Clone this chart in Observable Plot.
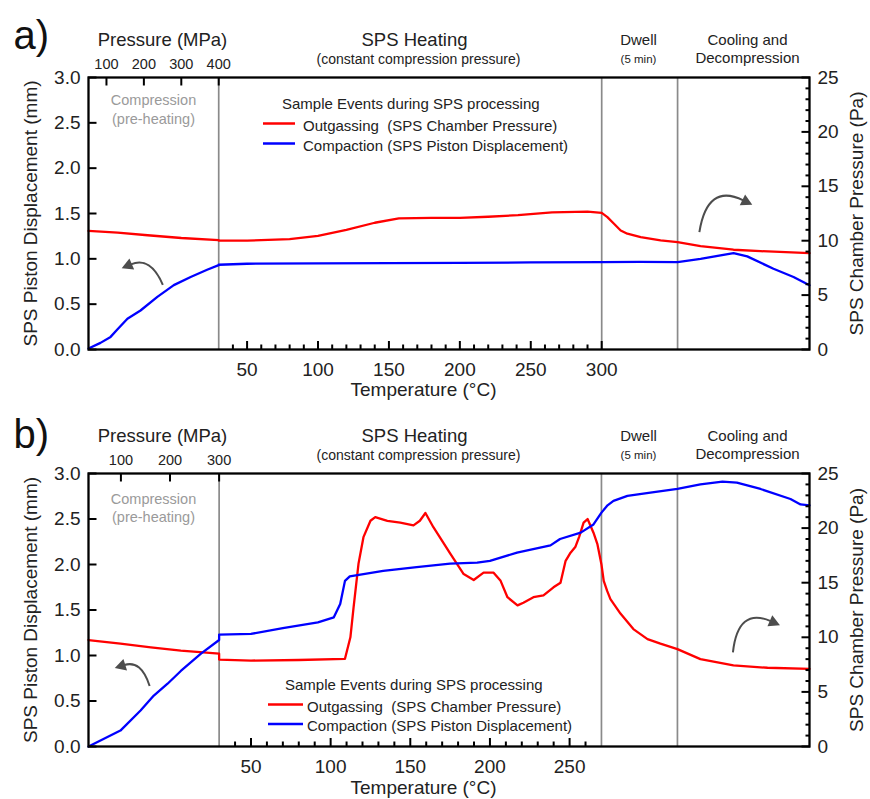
<!DOCTYPE html>
<html>
<head>
<meta charset="utf-8">
<script src="https://cdn.jsdelivr.net/npm/d3@7"></script>
<script src="https://cdn.jsdelivr.net/npm/@observablehq/plot@0.6"></script>
<style>
  body { margin: 0; background: #fff; font-family: "Liberation Sans", Arial, sans-serif; }
  #wrap { position: relative; width: 870px; height: 799px; }
  #pa { position: absolute; left: 0; top: 0; }
  #pb { position: absolute; left: 0; top: 400px; }
</style>
</head>
<body>
<div id="wrap"><div id="pa"></div><div id="pb"></div></div>
<script>
const FONT = "'Liberation Sans', Arial, Helvetica, sans-serif";

// ---------------- Panel a) data ----------------
const aPressureTicks = [100, 200, 300, 400];            // MPa (compression stage)
const aTempTicks = [50, 100, 150, 200, 250, 300];       // °C (heating stage)
// displacement in mm; chamber pressure in Pa
const aDispCompression = [[52,0.011],[84,0.073],[111,0.139],[129,0.22],[156,0.34],[191,0.43],[236,0.58],[280,0.71],[325,0.80],[369,0.88],[400,0.93]];
const aPresCompression = [[52,10.9],[130,10.75],[210,10.5],[300,10.25],[400,10.05]];
const aDispHeating = [[30,0.935],[50,0.946],[100,0.95],[150,0.952],[200,0.955],[250,0.96],[300,0.964]];
const aPresHeating = [[30,10.0],[50,10.0],[80,10.15],[100,10.45],[120,11.0],[140,11.65],[157,12.05],[180,12.1],[200,12.1],[220,12.2],[241,12.35],[265,12.6],[290,12.68],[300,12.56]];
const aDispDwell = [[0,0.964],[2.5,0.966],[5,0.964]];                 // minutes
const aPresDwell = [[0,12.56],[0.375,12.17],[0.81,11.56],[1.25,10.94],[1.69,10.64],[2.57,10.33],[3.88,10.03],[5,9.87]];
const aDispCooling = [[0,0.964],[0.174,1.0],[0.424,1.063],[0.528,1.027],[0.727,0.89],[0.879,0.80],[1,0.708]]; // fraction of stage
const aPresCooling = [[0,9.87],[0.174,9.5],[0.424,9.17],[0.629,9.04],[1,8.86]];

// ---------------- Panel b) data ----------------
const bPressureTicks = [100, 200, 300];
const bTempTicks = [50, 100, 150, 200, 250];
const bDispCompression = [[34,0],[99,0.175],[140,0.395],[167,0.56],[195,0.69],[222,0.83],[263,1.02],[300,1.17]];
const bPresCompression = [[34,9.75],[99,9.42],[161,9.08],[222,8.78],[300,8.5]];
const bDispHeating = [[30,1.23],[50,1.237],[70,1.30],[92,1.365],[102,1.42],[106,1.566],[109,1.82],[112,1.87],[133,1.93],[154,1.97],[175,2.01],[192,2.02],[200,2.04],[217,2.13],[238,2.21],[244,2.28],[257,2.35],[265,2.44],[270,2.57]];
const bPresHeating = [[30,7.96],[50,7.87],[80,7.92],[109,8.03],[112.4,10.0],[114.4,12.75],[117.5,16.75],[120.6,19.17],[125,20.67],[128,21.0],[135.6,20.67],[143.7,20.5],[152,20.25],[156,20.67],[159.5,21.38],[164.5,20.08],[175.2,17.63],[183.5,15.79],[189.8,15.25],[196,15.92],[202.3,15.92],[206.7,15.17],[211,13.67],[217.3,12.92],[221,13.17],[227.3,13.67],[233.6,13.83],[239.9,14.58],[244.3,15.0],[247.5,17.0],[250.6,17.75],[253.7,18.3],[256,19.2],[258.8,20.5],[261.3,20.83],[265,19.58],[267.5,18.5],[270,16.67]];
const bDispDwell = [[0,2.57],[0.4,2.65],[0.79,2.70],[1.71,2.755],[3.22,2.79],[5,2.83]];
const bPresDwell = [[0,16.67],[0.15,15.17],[0.375,14.25],[0.59,13.5],[1.25,12.17],[2.1,10.75],[3.03,9.83],[3.88,9.42],[5,8.92]];
const bDispCooling = [[0,2.83],[0.174,2.88],[0.341,2.91],[0.45,2.90],[0.629,2.83],[0.856,2.72],[0.932,2.66],[1,2.65]];
const bPresCooling = [[0,8.92],[0.174,8.0],[0.424,7.42],[0.682,7.21],[1,7.1]];

// Annotation arrows: [stage, stage value, displacement mm]
const aArrows = [
  {from: ["compression", 252, 0.708], to: ["compression", 142, 0.89], bend: 0.25},
  {from: ["cooling", 0.169, 1.29], to: ["cooling", 0.57, 1.59], bend: -0.34}
];
const bArrows = [
  {from: ["compression", 159.5, 0.659], to: ["compression", 88.5, 0.856], bend: 0.25},
  {from: ["cooling", 0.424, 1.03], to: ["cooling", 0.78, 1.328], bend: -0.34}
];

const dispTicks = [0, 0.5, 1, 1.5, 2, 2.5, 3];   // mm
const presTicks = [0, 5, 10, 15, 20, 25];        // Pa
const PA_TO_MM = 3 / 25;

const legendTitle = "Sample Events during SPS processing";
const legendItems = [
  {label: "Outgassing  (SPS Chamber Pressure)", color: "#ff0000"},
  {label: "Compaction (SPS Piston Displacement)", color: "#0000ff"}
];

// stage layout on a single process axis (°C-equivalent units)
function layout(cfg) {
  const u0 = cfg.heating[0] - cfg.compW;
  const L = {
    u0,
    compression: p => u0 + (p - cfg.compression[0]) / (cfg.compression[1] - cfg.compression[0]) * cfg.compW,
    invCompression: u => cfg.compression[0] + (u - u0) / cfg.compW * (cfg.compression[1] - cfg.compression[0]),
    heating: t => t,
    dwell: m => cfg.heating[1] + m / 5 * cfg.dwellW,
    cooling: f => cfg.heating[1] + cfg.dwellW + f * cfg.coolW
  };
  L.uEnd = L.cooling(1);
  return L;
}

function series(L, parts, k) {
  const out = [];
  for (const stage of ["compression", "heating", "dwell", "cooling"])
    for (const [x, v] of parts[stage]) out.push({u: L[stage](x), v: v * k});
  return out;
}

function arrowsMark(arrows, L) {
  return (index, scales) => {
    const g = d3.create("svg:g").attr("fill", "#4d4d4d").attr("stroke", "#4d4d4d");
    for (const a of arrows) {
      const x1 = scales.x(L[a.from[0]](a.from[1])), y1 = scales.y(a.from[2]);
      const x2 = scales.x(L[a.to[0]](a.to[1])), y2 = scales.y(a.to[2]);
      const dx = x2 - x1, dy = y2 - y1, len = Math.hypot(dx, dy);
      const k = a.bend * len * 2;
      const cx = (x1 + x2) / 2 + (-dy / len) * k, cy = (y1 + y2) / 2 + (dx / len) * k;
      const tx = x2 - cx, ty = y2 - cy, tl = Math.hypot(tx, ty);
      const ux = tx / tl, uy = ty / tl, hl = 11, hw = 6;
      const bx = x2 - ux * hl, by = y2 - uy * hl;
      g.append("path").attr("fill", "none").attr("stroke-width", 2)
        .attr("d", `M${x1},${y1}Q${cx},${cy} ${bx + ux},${by + uy}`);
      g.append("path").attr("stroke", "none")
        .attr("d", `M${x2},${y2}L${bx - uy * hw},${by + ux * hw}L${bx + uy * hw},${by - ux * hw}Z`);
    }
    return g.node();
  };
}

function legendMark(p) {
  return (index, scales, values, dims) => {
    const ox = dims.marginLeft, oy = dims.marginTop;
    const g = d3.create("svg:g").attr("font-family", FONT).attr("font-size", 15).attr("fill", "#222")
      .attr("text-anchor", "start").style("white-space", "pre");
    g.append("text").attr("x", ox + p.tx).attr("y", oy + p.ty).text(legendTitle);
    legendItems.forEach((it, i) => {
      const y = oy + p.ly + i * p.step;
      g.append("line").attr("x1", ox + p.lx).attr("x2", ox + p.lx + p.lw).attr("y1", y).attr("y2", y)
        .attr("stroke", it.color).attr("stroke-width", 2.5);
      g.append("text").attr("x", ox + p.lx + p.lw + p.gap).attr("y", y + 7).text(it.label);
    });
    return g.node();
  };
}

function label(s, o) {
  return Plot.text([s], {text: d => d, frameAnchor: "top-left", lineAnchor: "bottom", textAnchor: "middle", fill: "#222", ...o});
}

function panel(cfg) {
  const L = layout(cfg);
  const disp = series(L, cfg.disp, 1);
  const pres = series(L, cfg.pres, PA_TO_MM);
  const minorT = d3.range(40, cfg.heating[1], 10).filter(t => t % 50 !== 0);
  const minorP = d3.range(0, 26).filter(p => p % 5 !== 0).map(p => p * PA_TO_MM);
  return Plot.plot({
    width: 870, height: cfg.height,
    marginLeft: 88, marginRight: 61, marginTop: cfg.mt, marginBottom: cfg.mb,
    style: {fontFamily: FONT, color: "#222", background: "#fff", overflow: "visible"},
    x: {domain: [L.u0, L.uEnd]},
    y: {domain: [0, 3]},
    marks: [
      Plot.ruleX([cfg.heating[0], cfg.heating[1], L.dwell(5)], {stroke: "#8a8a8a", strokeWidth: 1.7}),
      Plot.line(pres, {x: "u", y: "v", stroke: "#ff0000", strokeWidth: 2.3}),
      Plot.line(disp, {x: "u", y: "v", stroke: "#0000ff", strokeWidth: 2.3}),
      // left axis (mm)
      Plot.axisY(dispTicks, {anchor: "left", tickSize: -8.5, tickPadding: 16.5, tickFormat: d3.format(".1f"), fontSize: 19, label: null, stroke: "#000", strokeWidth: 2}),
      // right axis (Pa)
      Plot.axisY(presTicks.map(p => p * PA_TO_MM), {anchor: "right", tickSize: -8.5, tickPadding: 16.5, tickFormat: d => Math.round(d / PA_TO_MM), fontSize: 19, label: null, stroke: "#000", strokeWidth: 2}),
      Plot.axisY(minorP, {anchor: "right", tickSize: -4.5, tickFormat: () => "", label: null, stroke: "#000", strokeWidth: 2}),
      // bottom axis (°C)
      Plot.axisX(cfg.tempTicks, {anchor: "bottom", tickSize: -8, tickPadding: 20.5, fontSize: 19, label: null, stroke: "#000", strokeWidth: 2}),
      Plot.axisX(minorT, {anchor: "bottom", tickSize: -4.5, tickFormat: () => "", label: null, stroke: "#000", strokeWidth: 2}),
      // top axis (MPa)
      Plot.axisX(cfg.pressureTicks.map(L.compression), {anchor: "top", tickSize: -7.5, tickPadding: 16.5, tickFormat: d => Math.round(L.invCompression(d) / 10) * 10, fontSize: 14.5, label: null, stroke: "#000", strokeWidth: 2}),
      Plot.frame({stroke: "#000", strokeWidth: 2.3}),
      // axis titles
      Plot.text(["SPS Piston Displacement (mm)"], {text: d => d, frameAnchor: "left", textAnchor: "middle", lineAnchor: "middle", dx: -57.5, rotate: -90, fontSize: 19, fill: "#222"}),
      Plot.text(["SPS Chamber Pressure (Pa)"], {text: d => d, frameAnchor: "right", textAnchor: "middle", lineAnchor: "middle", dx: 47, rotate: -90, fontSize: 19, fill: "#222"}),
      Plot.text(["Temperature (°C)"], {text: d => d, frameAnchor: "bottom-left", textAnchor: "middle", dx: 335, dy: cfg.tempTitleDy, lineAnchor: "bottom", fontSize: 19, fill: "#222"}),
      // headers
      label(cfg.letter, {dx: -75, dy: cfg.letterDy, textAnchor: "start", fontSize: 40, fill: "#111"}),
      label("Pressure (MPa)", {dx: 74, dy: -32, fontSize: 18.5}),
      label("SPS Heating", {dx: 326, dy: -32, fontSize: 18.5}),
      label("(constant compression pressure)", {dx: 330, dy: -14, fontSize: 14}),
      label("Dwell", {dx: 550, dy: -33, fontSize: 15}),
      label("(5 min)", {dx: 550, dy: -15, fontSize: 11.5}),
      label("Cooling and", {dx: 659, dy: -33, fontSize: 15}),
      label("Decompression", {dx: 659, dy: -15, fontSize: 15}),
      label("Compression", {dx: 65, dy: cfg.compDy, fontSize: 14.5, fill: "#9a9a9a"}),
      label("(pre-heating)", {dx: 65, dy: cfg.compDy + 18.5, fontSize: 14.5, fill: "#9a9a9a"}),
      arrowsMark(cfg.arrows, L),
      legendMark(cfg.legend)
    ]
  });
}

const panelA = panel({
  letter: "a)", letterDy: -28.5, height: 400, mt: 77, mb: 51, tempTitleDy: 46, compDy: 27.8,
  compression: [52, 400], heating: [30, 300], compW: 91.8, dwellW: 53.5, coolW: 93,
  pressureTicks: aPressureTicks, tempTicks: aTempTicks,
  disp: {compression: aDispCompression, heating: aDispHeating, dwell: aDispDwell, cooling: aDispCooling},
  pres: {compression: aPresCompression, heating: aPresHeating, dwell: aPresDwell, cooling: aPresCooling},
  arrows: aArrows,
  legend: {tx: 194, ty: 32, lx: 175, lw: 32, gap: 8, ly: 46.5, step: 20}
});
const panelB = panel({
  letter: "b)", letterDy: -26, height: 399, mt: 73, mb: 53, tempTitleDy: 47, compDy: 30,
  compression: [34, 300], heating: [30, 270], compW: 82, dwellW: 47.7, coolW: 82.9,
  pressureTicks: bPressureTicks, tempTicks: bTempTicks,
  disp: {compression: bDispCompression, heating: bDispHeating, dwell: bDispDwell, cooling: bDispCooling},
  pres: {compression: bPresCompression, heating: bPresHeating, dwell: bPresDwell, cooling: bPresCooling},
  arrows: bArrows,
  legend: {tx: 197, ty: 216.5, lx: 180, lw: 35, gap: 4, ly: 231.5, step: 19.5}
});
document.getElementById("pa").appendChild(panelA);
document.getElementById("pb").appendChild(panelB);
</script>
</body>
</html>
